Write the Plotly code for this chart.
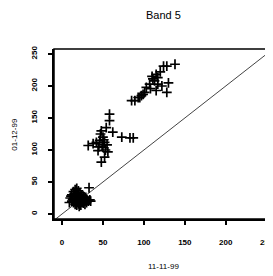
import plotly.graph_objects as go

# data (x = 11-11-99, y = 01-12-99)
low_x = [12, 14, 16, 18, 20, 22, 24, 26, 28, 30, 32, 34, 33, 10, 12, 14, 16, 18, 20, 22, 24, 26, 28, 30,
         15, 18, 20, 22, 25, 13, 17, 11, 19, 27, 23, 35, 9, 21, 16, 29]
low_y = [30, 35, 38, 40, 36, 33, 30, 28, 25, 22, 20, 22, 41, 25, 20, 18, 15, 14, 16, 18, 20, 17, 15, 18,
         28, 25, 22, 26, 24, 23, 32, 28, 30, 21, 14, 20, 18, 12, 22, 26]
mid_x = [58, 58, 54, 48, 62, 73, 83, 87, 46, 38, 32, 50, 44, 56, 52, 48, 50, 42, 52, 47, 55, 45, 53, 49, 51]
mid_y = [156, 146, 135, 130, 128, 120, 119, 119, 115, 110, 107, 104, 99, 97, 89, 81, 120, 112, 112, 125, 108, 105, 100, 108, 116]
up_x = [138, 128, 124, 115, 117, 111, 107, 103, 99, 95, 89, 85, 128, 130, 117, 115, 113, 93, 101, 120, 108, 97, 122, 110]
up_y = [234, 231, 231, 218, 213, 211, 203, 198, 187, 182, 177, 177, 190, 205, 203, 193, 208, 182, 190, 222, 196, 185, 200, 215]
ticks = [0, 50, 100, 150, 200, 250]

xs = low_x + mid_x + up_x
ys = low_y + mid_y + up_y
diag = [-10, 270]

fig = go.Figure()
fig.add_trace(go.Scatter(x=diag, y=diag, mode="lines",
                         line=dict(color="#444444", width=1), hoverinfo="skip"))
fig.add_trace(go.Scatter(x=xs, y=ys, mode="markers",
                         marker=dict(symbol="cross-thin", size=7,
                                     line=dict(color="black", width=1.7))))

font = dict(family="Liberation Sans, Arial, sans-serif", color="black")
tfont = dict(size=8, weight="bold", **font)
fig.update_layout(
    width=265, height=268,
    margin=dict(l=46, r=1, t=41, b=57),
    paper_bgcolor="white", plot_bgcolor="white",
    showlegend=False,
    xaxis=dict(range=[-9.8, 256.5], tickvals=ticks, automargin=False,
               showgrid=False, zeroline=False, showline=True, linewidth=2, linecolor="black",
               ticks="outside", ticklen=4, tickwidth=2, tickcolor="black",
               ticklabelstandoff=10, ticklabeloverflow="allow", tickfont=tfont),
    yaxis=dict(range=[-7.8, 257.8], tickvals=ticks, automargin=False,
               showgrid=False, zeroline=False, showline=True, linewidth=2, linecolor="black",
               ticks="outside", ticklen=4, tickwidth=2, tickcolor="black",
               tickangle=-90, ticklabelstandoff=8, ticklabeloverflow="allow", tickfont=tfont),
    shapes=[dict(type="rect", xref="paper", yref="paper", x0=0, y0=0, x1=1, y1=1,
                 line=dict(color="black", width=1.5))],
    annotations=[
        dict(text="Band 5", xref="paper", yref="paper", x=0.5, y=1.2, xanchor="center",
             yanchor="middle", showarrow=False, font=dict(size=11, **font)),
        dict(text="11-11-99", xref="paper", yref="paper", x=0.5, y=-0.282, xanchor="center",
             yanchor="middle", showarrow=False, font=dict(size=8, **font)),
        dict(text="01-12-99", xref="paper", yref="paper", x=-0.185, y=0.5, xanchor="center",
             yanchor="middle", textangle=-90, showarrow=False, font=dict(size=8, **font)),
    ],
)
fig.write_html("out.html")
